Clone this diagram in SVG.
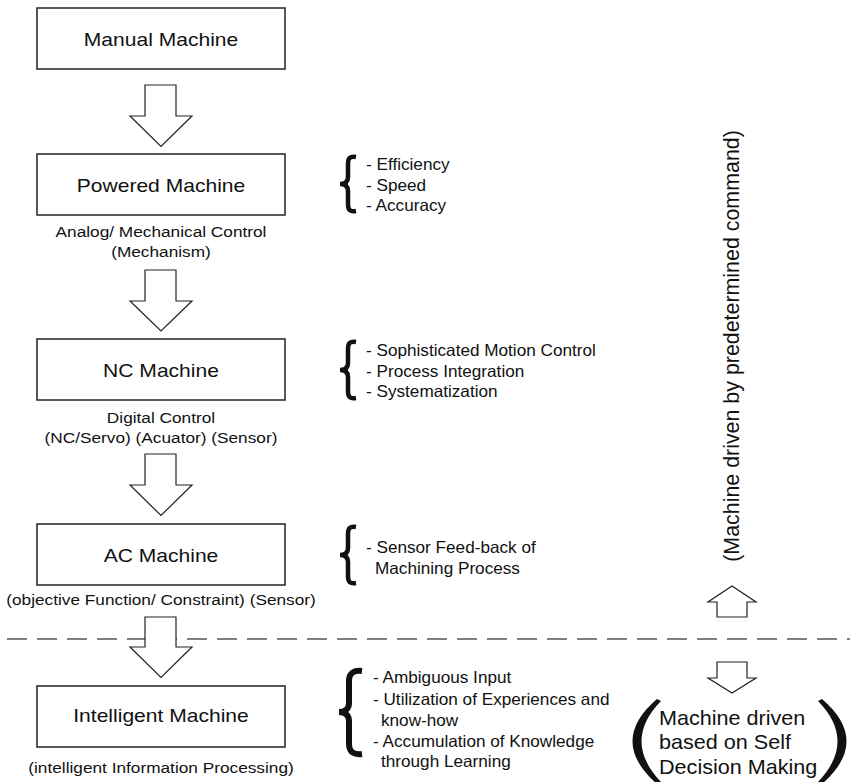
<svg xmlns="http://www.w3.org/2000/svg" width="850" height="782" viewBox="0 0 850 782">
<style>
text{font-family:"Liberation Sans",Arial,sans-serif;fill:#111}
.main{font-size:18px;text-anchor:middle}
.lab{font-size:15px;text-anchor:middle}
.bul{font-size:16.5px}
.side{font-size:20px}
.vert{font-size:21.4px;text-anchor:middle}
.box{fill:#fff;stroke:#222;stroke-width:1.5}
.arr{fill:#fff;stroke:#222;stroke-width:1.2}
.brace{fill:none;stroke:#111;stroke-width:4.5}
.paren{fill:#111}
.dash{stroke:#555;stroke-width:1.6;stroke-dasharray:20 10;stroke-dashoffset:23}
</style>
<line class="dash" x1="0" y1="639" x2="850" y2="639"/>
<g id="connectors">
<polygon class="arr" points="145,85 176,85 176,116 192,116 161,146.5 130,116 145,116"/>
<polygon class="arr" points="145,270 176,270 176,301 192,301 161,331 130,301 145,301"/>
<polygon class="arr" points="145,454 176,454 176,485 192,485 161,515.5 130,485 145,485"/>
<polygon class="arr" points="145,617 176,617 176,647 192,647 161,677.5 130,647 145,647"/>
<polygon class="arr" points="717,617 747,617 747,602 756,602 732,586 708,602 717,602"/>
<polygon class="arr" points="717,662 747,662 747,678 756,678 732,693 708,678 717,678"/>
</g>
<g id="manual">
<rect class="box" x="37" y="8" width="248" height="61"/>
<text class="main" transform="translate(161,45.5) scale(1.17,1)">Manual Machine</text>
</g>
<g id="powered">
<rect class="box" x="37" y="154" width="248" height="61"/>
<text class="main" transform="translate(161,192) scale(1.17,1)">Powered Machine</text>
<text class="lab" transform="translate(161,237) scale(1.15,1)">Analog/ Mechanical Control</text>
<text class="lab" transform="translate(161,257) scale(1.15,1)">(Mechanism)</text>
</g>
<g id="nc">
<rect class="box" x="37" y="339" width="248" height="61"/>
<text class="main" transform="translate(161,377) scale(1.17,1)">NC Machine</text>
<text class="lab" transform="translate(161,423) scale(1.15,1)">Digital Control</text>
<text class="lab" transform="translate(161,443) scale(1.15,1)">(NC/Servo) (Acuator) (Sensor)</text>
</g>
<g id="ac">
<rect class="box" x="37" y="524" width="248" height="61"/>
<text class="main" transform="translate(161,562) scale(1.17,1)">AC Machine</text>
<text class="lab" transform="translate(161,605) scale(1.15,1)">(objective Function/ Constraint) (Sensor)</text>
</g>
<g id="intelligent">
<rect class="box" x="37" y="686" width="248" height="61"/>
<text class="main" transform="translate(161,722) scale(1.17,1)">Intelligent Machine</text>
<text class="lab" transform="translate(161,773) scale(1.15,1)">(intelligent Information Processing)</text>
</g>
<g id="list1">
<path class="brace" d="M356,157 C350,156 348,158 348,164 L348,177 C348,182 345,184 340,184 C345,184 348,186 348,191 L348,204 C348,210 350,212 356,211"/>
<text class="bul" transform="translate(366,170) scale(1.04,1)">- Efficiency</text>
<text class="bul" transform="translate(366,190.5) scale(1.04,1)">- Speed</text>
<text class="bul" transform="translate(366,211) scale(1.04,1)">- Accuracy</text>
</g>
<g id="list2">
<path class="brace" d="M356,342 C350,341 348,343 348,349 L348,363 C348,368 345,370 340,370 C345,370 348,372 348,377 L348,391 C348,397 350,399 356,398"/>
<text class="bul" transform="translate(366,356) scale(1.04,1)">- Sophisticated Motion Control</text>
<text class="bul" transform="translate(366,376.5) scale(1.04,1)">- Process Integration</text>
<text class="bul" transform="translate(366,397) scale(1.04,1)">- Systematization</text>
</g>
<g id="list3">
<path class="brace" d="M356,527 C350,526 348,528 348,534 L348,548 C348,553 345,555 340,555 C345,555 348,557 348,562 L348,576 C348,582 350,584 356,583"/>
<text class="bul" transform="translate(366,553) scale(1.04,1)">- Sensor Feed-back of</text>
<text class="bul" transform="translate(375,574) scale(1.04,1)">Machining Process</text>
</g>
<g id="list4">
<path class="brace" style="stroke-width:6" d="M362,671 C354,670 349,673 349,681 L349,703 C349,709 345,712 339,712 C345,712 349,715 349,721 L349,744 C349,752 354,755 362,754"/>
<text class="bul" transform="translate(373,683) scale(1.04,1)">- Ambiguous Input</text>
<text class="bul" transform="translate(373,705) scale(1.04,1)">- Utilization of Experiences and</text>
<text class="bul" transform="translate(381,726) scale(1.04,1)">know-how</text>
<text class="bul" transform="translate(373,747) scale(1.04,1)">- Accumulation of Knowledge</text>
<text class="bul" transform="translate(381,767) scale(1.04,1)">through Learning</text>
</g>
<g id="predetermined">
<text class="vert" transform="translate(738.5,346) rotate(-90)">(Machine driven by predetermined command)</text>
</g>
<g id="self-decision">
<path class="paren" d="M657,699 Q608,741 657,784 L661,782 Q622,741 661,701 Z"/>
<text class="side" transform="translate(659,725) scale(1.08,1)">Machine driven</text>
<text class="side" transform="translate(659,749) scale(1.08,1)">based on Self</text>
<text class="side" transform="translate(659,774) scale(1.08,1)">Decision Making</text>
<path class="paren" d="M822,699 Q871,741 822,784 L818,782 Q857,741 818,701 Z"/>
</g>
</svg>
